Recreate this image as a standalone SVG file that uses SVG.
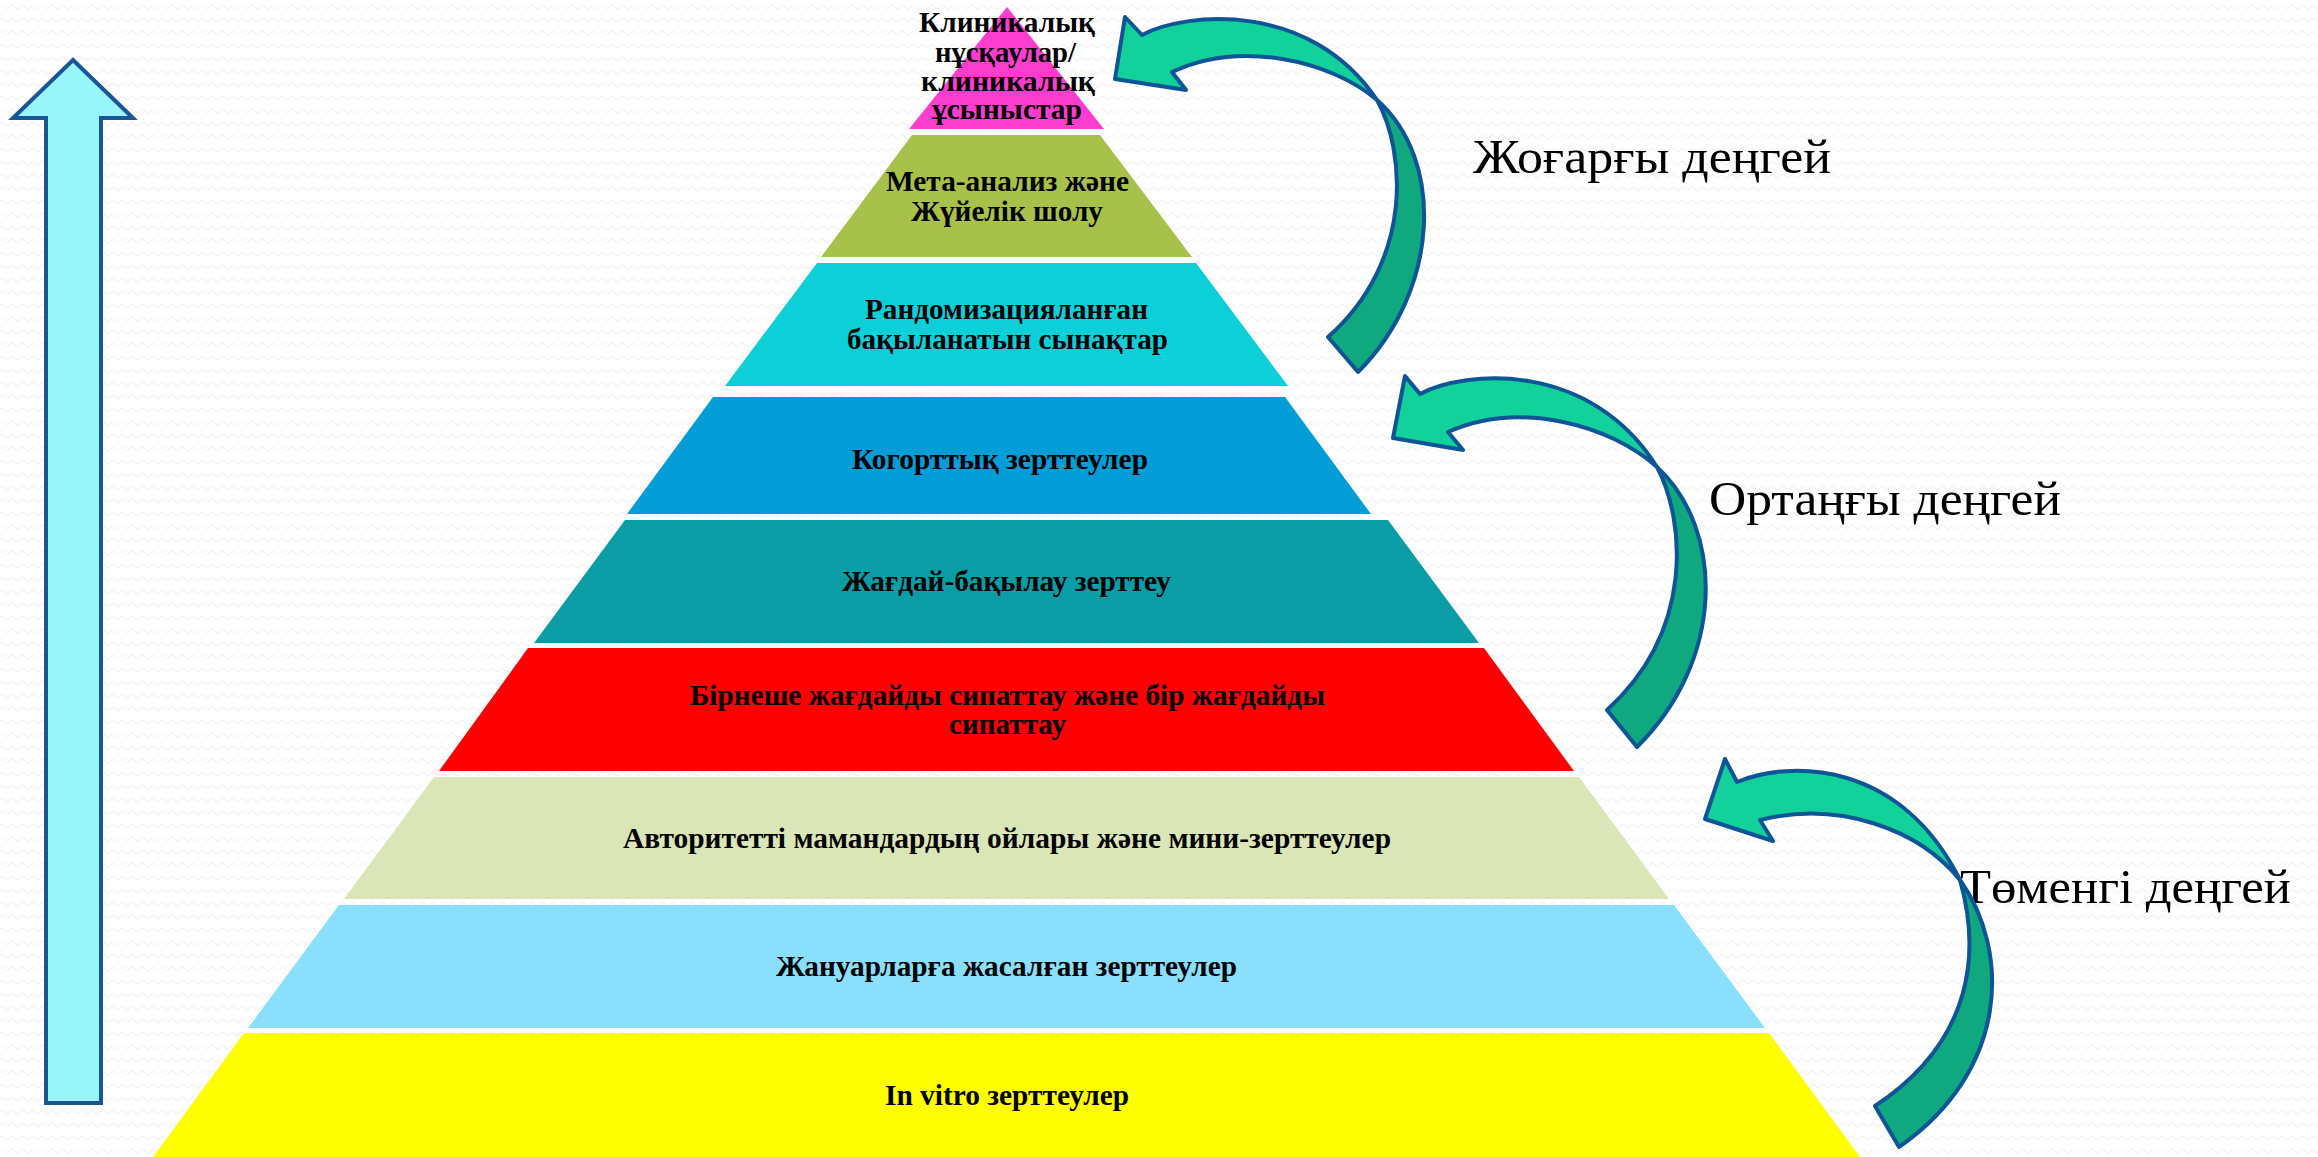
<svg xmlns="http://www.w3.org/2000/svg" width="2318" height="1157" viewBox="0 0 2318 1157">
<defs>
<pattern id="bg" width="10" height="13" patternUnits="userSpaceOnUse">
<path d="M0,7 Q2.5,3.5 5,7 T10,7" fill="none" stroke="#ececec" stroke-width="1"/>
</pattern>
<style>
.lt{font-family:"Liberation Serif","Times New Roman",serif;font-weight:bold;font-size:29px;fill:#000;text-anchor:start}
.lv{font-family:"Liberation Serif","Times New Roman",serif;font-size:48px;fill:#000}
.aL{fill:#12d19b;stroke:#0d5596;stroke-width:4;stroke-linejoin:round}
.aD{fill:#10a87e;stroke:#0d5596;stroke-width:4;stroke-linejoin:round}
</style>
</defs>
<rect width="2318" height="1157" fill="#ffffff"/>
<rect width="2318" height="1157" fill="url(#bg)"/>

<g id="level-1">
<polygon points="1007,7 1104,129 909,129" fill="#fd3dce"/>
<text class="lt" x="919" y="32" textLength="176" lengthAdjust="spacingAndGlyphs">Клиникалық</text>
<text class="lt" x="935" y="62" textLength="141" lengthAdjust="spacingAndGlyphs">нұсқаулар/</text>
<text class="lt" x="921" y="91" textLength="174" lengthAdjust="spacingAndGlyphs">клиникалық</text>
<text class="lt" x="932" y="119" textLength="150" lengthAdjust="spacingAndGlyphs">ұсыныстар</text>
</g>
<g id="level-2">
<polygon points="912,135 1100,135 1192,257 821,257" fill="#a8c14a"/>
<text class="lt" x="886" y="191" textLength="243" lengthAdjust="spacingAndGlyphs">Мета-анализ және</text>
<text class="lt" x="911" y="221" textLength="192" lengthAdjust="spacingAndGlyphs">Жүйелік шолу</text>
</g>
<g id="level-3">
<polygon points="817,263 1196,263 1288,386 725,386" fill="#0dcfd8"/>
<text class="lt" x="865" y="319" textLength="283" lengthAdjust="spacingAndGlyphs">Рандомизацияланған</text>
<text class="lt" x="847" y="349" textLength="321" lengthAdjust="spacingAndGlyphs">бақыланатын сынақтар</text>
</g>
<g id="level-4">
<polygon points="713,397 1285,397 1371,514 627,514" fill="#029dd7"/>
<text class="lt" x="852" y="469" textLength="296" lengthAdjust="spacingAndGlyphs">Когорттық зерттеулер</text>
</g>
<g id="level-5">
<polygon points="625,520 1388,520 1479,643 534,643" fill="#0a9da5"/>
<text class="lt" x="842" y="591" textLength="329" lengthAdjust="spacingAndGlyphs">Жағдай-бақылау зерттеу</text>
</g>
<g id="level-6">
<polygon points="528,648 1484,648 1574,771 439,771" fill="#ff0000"/>
<text class="lt" x="690" y="705" textLength="635" lengthAdjust="spacingAndGlyphs">Бірнеше жағдайды сипаттау және бір жағдайды</text>
<text class="lt" x="949" y="734" textLength="117" lengthAdjust="spacingAndGlyphs">сипаттау</text>
</g>
<g id="level-7">
<polygon points="434,777 1579,777 1669,899 344,899" fill="#dbe6b8"/>
<text class="lt" x="623" y="848" textLength="768" lengthAdjust="spacingAndGlyphs">Авторитетті мамандардың ойлары және мини-зерттеулер</text>
</g>
<g id="level-8">
<polygon points="339,905 1674,905 1765,1028 248,1028" fill="#8adffd"/>
<text class="lt" x="776" y="976" textLength="461" lengthAdjust="spacingAndGlyphs">Жануарларға жасалған зерттеулер</text>
</g>
<g id="level-9">
<polygon points="244,1033 1769,1033 1860,1157 153,1157" fill="#ffff00"/>
<text class="lt" x="885" y="1105" textLength="244" lengthAdjust="spacingAndGlyphs">In vitro зерттеулер</text>
</g>

<g id="label-high"><text class="lv" x="1473" y="173" textLength="358" lengthAdjust="spacingAndGlyphs">Жоғарғы деңгей</text></g>
<g id="label-mid"><text class="lv" x="1709" y="515" textLength="352" lengthAdjust="spacingAndGlyphs">Ортаңғы деңгей</text></g>
<g id="label-low"><text class="lv" x="1960" y="903" textLength="331" lengthAdjust="spacingAndGlyphs">Төменгі деңгей</text></g>

<g id="connectors">
<path id="up-arrow" d="M73,60 L133,118 L101,118 L101,1103 L46,1103 L46,118 L13,118 Z" fill="#98f5fa" stroke="#1a5596" stroke-width="4" stroke-linejoin="miter"/>
<g id="curve-high">
<path class="aD" d="M1377,100 C1405,150 1415,260 1328,337 L1358,372 C1440,290 1445,160 1377,100 Z"/>
<path class="aL" d="M1115,79 L1125,17 L1142,35 C1185,12 1310,0 1377,100 C1330,60 1240,40 1172,72 L1186,90 Z"/>
</g>
<g id="curve-mid">
<path class="aD" d="M1657,467 C1685,520 1695,630 1607,710 L1637,747 C1725,660 1725,530 1657,467 Z"/>
<path class="aL" d="M1393,438 L1405,376 L1420,394 C1465,370 1590,360 1657,467 C1610,425 1520,400 1448,432 L1463,450 Z"/>
</g>
<g id="curve-low">
<path class="aD" d="M1960,880 C1980,950 1975,1040 1875,1106 L1899,1147 C2010,1070 2010,950 1960,880 Z"/>
<path class="aL" d="M1705,819 L1725,759 L1737,782 C1790,760 1900,760 1960,880 C1920,830 1840,800 1760,820 L1773,841 Z"/>
</g>
</g>
</svg>
